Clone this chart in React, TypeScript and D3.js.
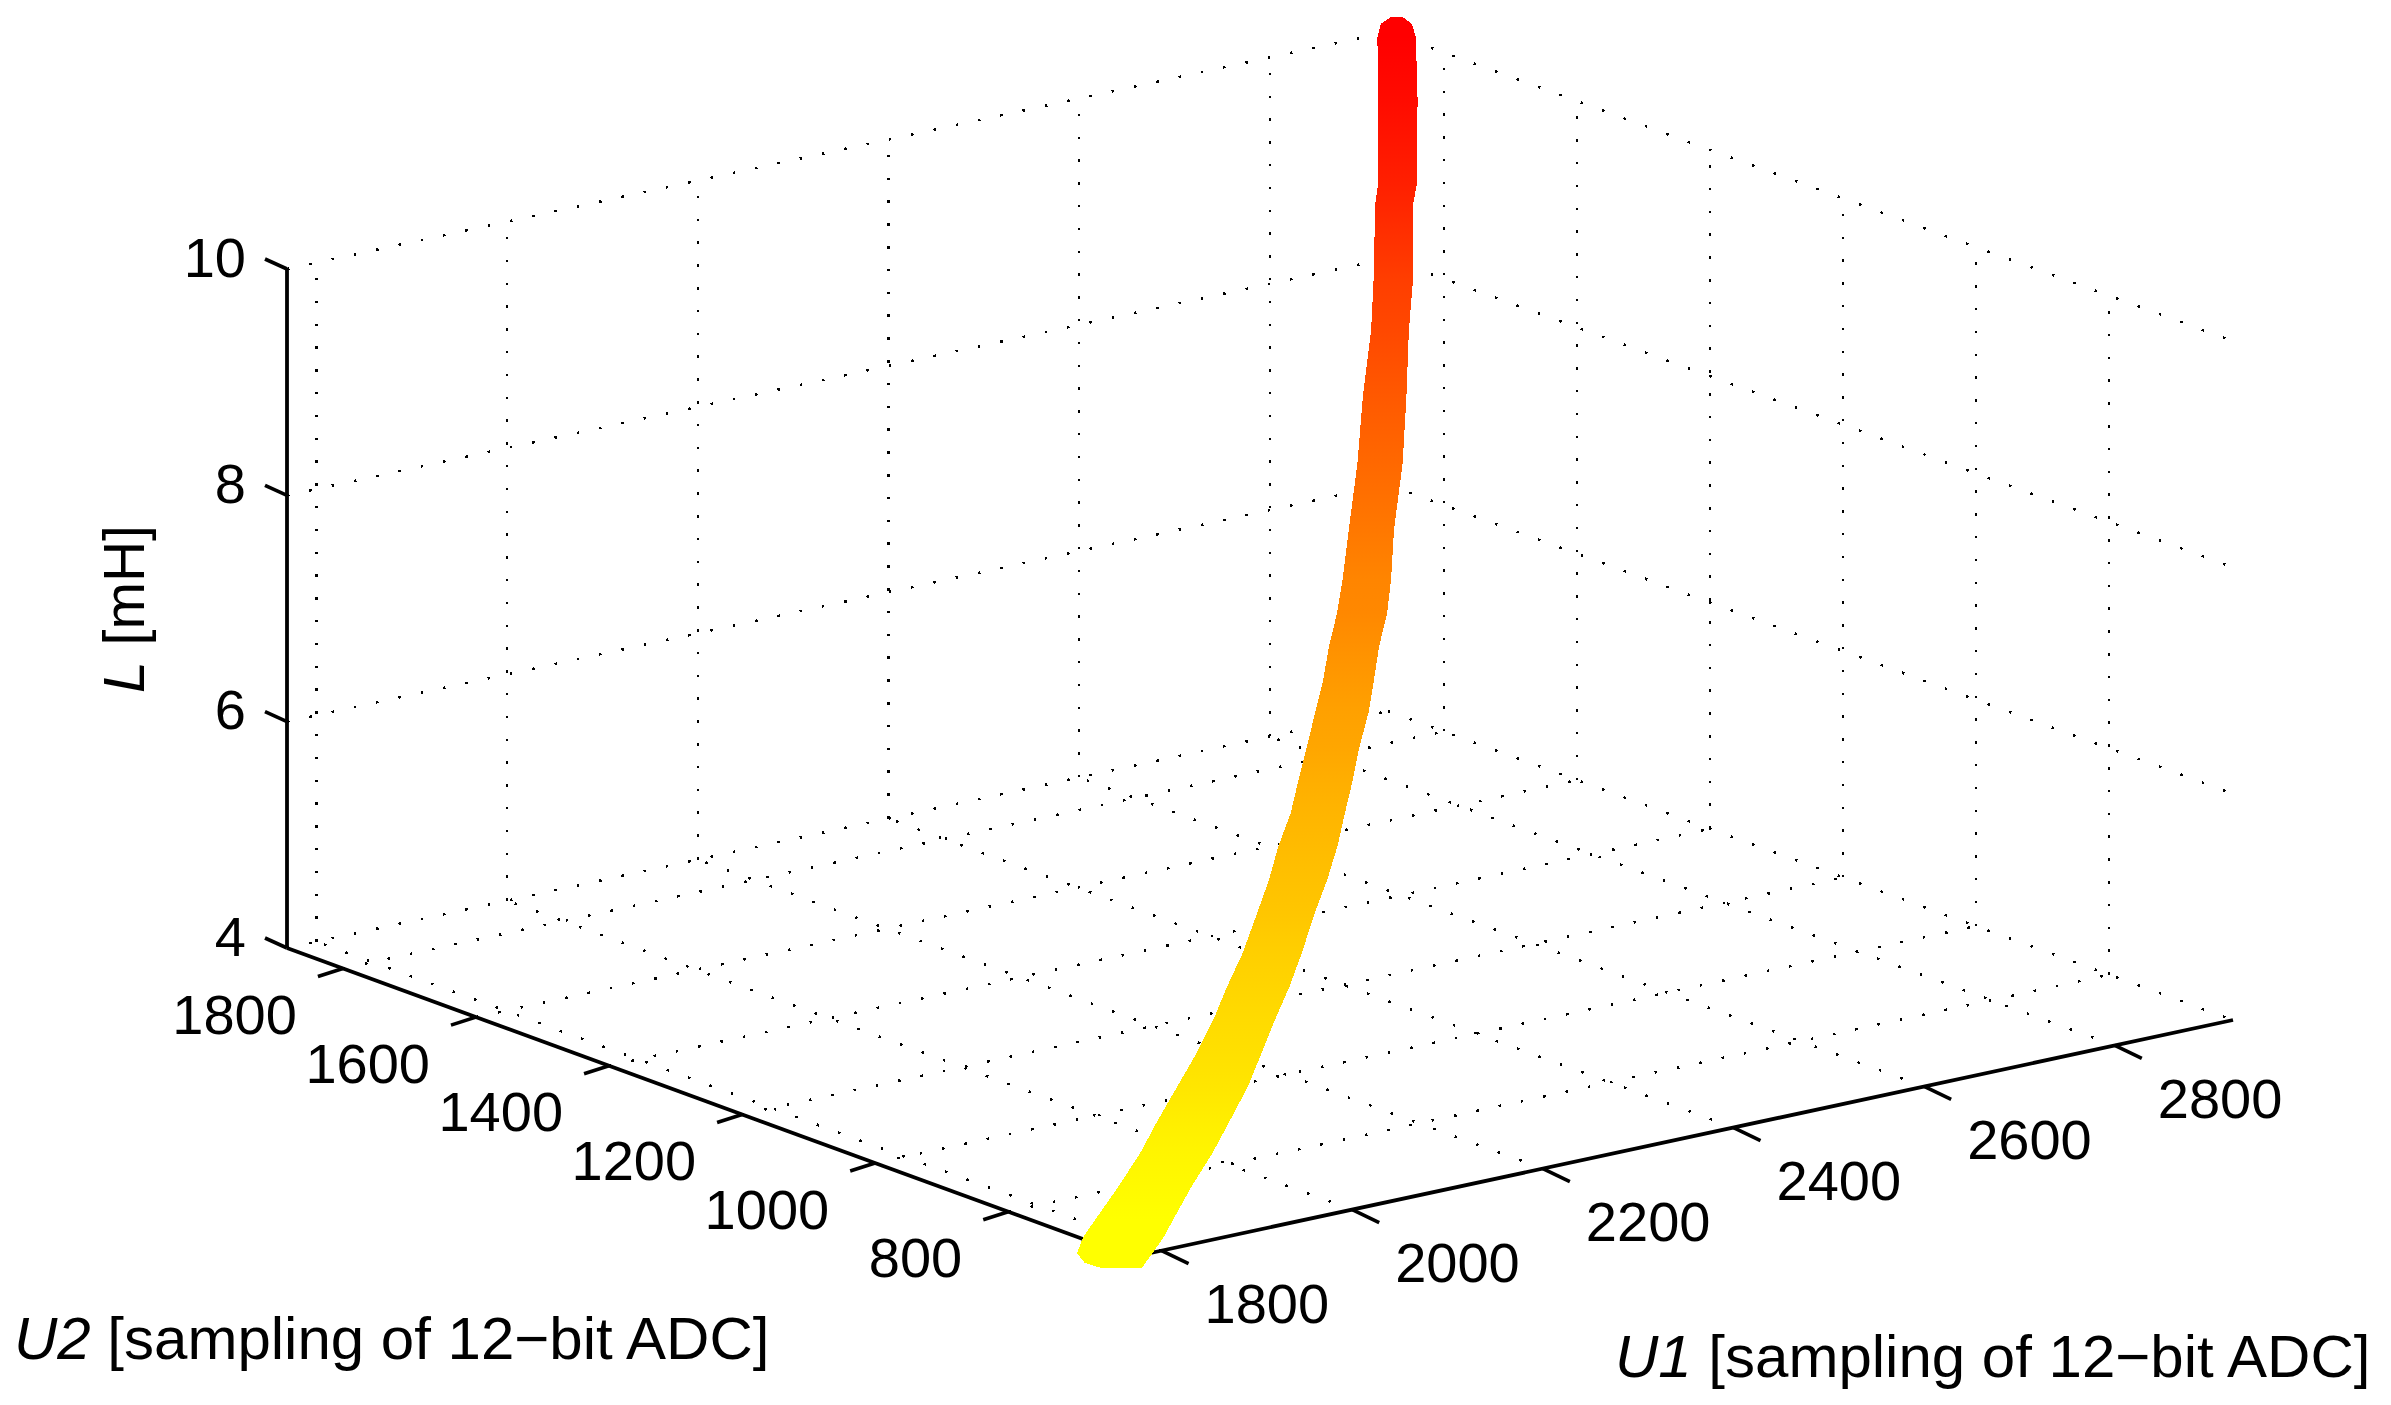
import { useEffect, useRef } from 'react';
import * as d3 from 'd3';

// axis ticks
const u1Ticks = [1800, 2000, 2200, 2400, 2600, 2800];
const u2Ticks = [800, 1000, 1200, 1400, 1600, 1800];
const lTicks = [4, 6, 8, 10];

// axis limits
const u1Domain = [1769, 2924];
const u2Domain = [614, 1884];
const lDomain = [4, 10];

// measured trace, read row by row along both sides of the band
const traceL = [10, 10, 10, 9.75, 9.25, 9.1, 8.55, 8.3, 7.9, 7.55, 7.18, 6.88, 6.8, 6.6, 6.4, 6.22, 6.1, 5.9, 5.75, 5.6, 5.47, 5.35, 5.14, 5, 4.84, 4.72, 4.6, 4.39, 4.24, 4.12, 4, 4, 4, 4, 4];
const traceU1Left = [2953, 2934, 2908, 2846, 2794, 2787, 2763, 2722, 2677, 2626, 2575, 2542, 2495, 2469, 2447, 2419, 2376, 2352, 2318, 2279, 2240, 2197, 2158, 2115, 2079, 2033, 1983, 1954, 1913, 1862, 1811, 1773, 1740, 1727, 1729];
const traceU2Left = [1921, 1909, 1877, 1787, 1713, 1707, 1675, 1620, 1568, 1503, 1443, 1405, 1346, 1321, 1298, 1270, 1221, 1199, 1162, 1125, 1083, 1039, 1005, 967, 936, 895, 853, 840, 808, 768, 730, 693, 655, 625, 602];
const traceU1Right = [2961, 2954, 2933, 2872, 2820, 2812, 2789, 2747, 2706, 2656, 2605, 2574, 2528, 2502, 2480, 2454, 2411, 2388, 2354, 2318, 2278, 2235, 2197, 2156, 2120, 2076, 2030, 2002, 1961, 1910, 1863, 1826, 1790, 1767, 1756];
const traceU2Right = [1915, 1891, 1855, 1765, 1692, 1686, 1653, 1599, 1544, 1478, 1418, 1378, 1318, 1293, 1269, 1240, 1192, 1169, 1132, 1092, 1050, 1007, 972, 932, 902, 859, 814, 800, 768, 727, 687, 648, 613, 591, 580];

export default function App() {
    const svgRef = useRef<SVGSVGElement>(null);

    useEffect(() => {
        if (!svgRef.current) return;

        const corner = { x: 1132, y: 1257 };
        const u1x = d3.scaleLinear(u1Domain, [0, 1101]);
        const u1y = d3.scaleLinear(u1Domain, [0, -237]);
        const u2x = d3.scaleLinear(u2Domain, [0, -845]);
        const u2y = d3.scaleLinear(u2Domain, [0, -309]);
        const lz = d3.scaleLinear(lDomain, [0, -679]);

        const project = (u1: number, u2: number, l: number): [number, number] => [
            corner.x + u1x(u1) + u2x(u2),
            corner.y + u1y(u1) + u2y(u2) + lz(l),
        ];

        const svg = d3.select(svgRef.current);
        svg.selectAll('*').remove();

        const line = d3.line();
        const [u1Min, u1Max] = u1Domain;
        const [u2Min, u2Max] = u2Domain;
        const [lMin, lMax] = lDomain;

        // Dotted grid on the floor and the two walls
        const gridLines: [number, number, number][][] = [
            ...u1Ticks.map(t => [[t, u2Min, lMin], [t, u2Max, lMin]] as [number, number, number][]),
            ...u2Ticks.map(t => [[u1Min, t, lMin], [u1Max, t, lMin]] as [number, number, number][]),
            ...u1Ticks.map(t => [[t, u2Max, lMin], [t, u2Max, lMax]] as [number, number, number][]),
            ...u2Ticks.map(t => [[u1Max, t, lMin], [u1Max, t, lMax]] as [number, number, number][]),
            ...lTicks.map(t => [[u1Min, u2Max, t], [u1Max, u2Max, t]] as [number, number, number][]),
            ...lTicks.map(t => [[u1Max, u2Max, t], [u1Max, u2Min, t]] as [number, number, number][]),
        ];
        svg.append('g')
            .selectAll('path')
            .data(gridLines)
            .join('path')
            .attr('d', d => line(d.map(p => project(p[0], p[1], p[2]))))
            .attr('fill', 'none')
            .attr('stroke', '#000')
            .attr('stroke-width', 2.5)
            .attr('stroke-dasharray', '2.5 20.3')
            .attr('shape-rendering', 'crispEdges');

        // Axis lines
        const axisLines: [number, number, number][][] = [
            [[u1Min, u2Min, lMin], [u1Max, u2Min, lMin]],
            [[u1Min, u2Min, lMin], [u1Min, u2Max, lMin]],
            [[u1Min, u2Max, lMin], [u1Min, u2Max, lMax]],
        ];
        svg.append('g')
            .selectAll('path')
            .data(axisLines)
            .join('path')
            .attr('d', d => line(d.map(p => project(p[0], p[1], p[2]))))
            .attr('fill', 'none')
            .attr('stroke', '#000')
            .attr('stroke-width', 3.8);

        const tick = (p: [number, number], dx: number, dy: number) =>
            svg.append('path')
                .attr('d', line([p, [p[0] + dx, p[1] + dy]]))
                .attr('stroke', '#000')
                .attr('stroke-width', 3.6);

        const label = (x: number, y: number, anchor: string, txt: string) =>
            svg.append('text')
                .attr('x', x).attr('y', y)
                .attr('text-anchor', anchor)
                .attr('dominant-baseline', 'central')
                .attr('font-family', '"Liberation Sans", Arial, sans-serif')
                .attr('font-size', 56)
                .attr('fill', '#000')
                .text(txt);

        u1Ticks.forEach(t => {
            const p = project(t, u2Min, lMin);
            tick(p, 27, 13);
            label(p[0] + 43, p[1] + 53, 'start', String(t));
        });
        u2Ticks.forEach(t => {
            const p = project(u1Min, t, lMin);
            tick(p, -25, 8);
            label(p[0] - 46, p[1] + 46, 'end', String(t));
        });
        lTicks.forEach(t => {
            const p = project(u1Min, u2Max, t);
            tick(p, -22, -10);
            label(p[0] - 41, p[1] - 12, 'end', String(t));
        });

        // Trace, coloured by L (autumn colormap, red at the top, yellow at the bottom)
        const green = d3.scaleLinear(lDomain, [255, 0]);
        const leftEdge = traceL.map((l, i) => project(traceU1Left[i], traceU2Left[i], l));
        const rightEdge = traceL.map((l, i) => project(traceU1Right[i], traceU2Right[i], l));
        const top = leftEdge[0][1];
        const bottom = leftEdge[leftEdge.length - 1][1];

        const defs = svg.append('defs');
        const grad = defs.append('linearGradient')
            .attr('id', 'trace-grad')
            .attr('gradientUnits', 'userSpaceOnUse')
            .attr('x1', 0).attr('x2', 0)
            .attr('y1', top).attr('y2', bottom);
        traceL.forEach((l, i) => {
            grad.append('stop')
                .attr('offset', (leftEdge[i][1] - top) / (bottom - top))
                .attr('stop-color', `rgb(255,${Math.round(green(l))},0)`);
        });

        svg.append('path')
            .attr('d', line([...leftEdge, ...rightEdge.slice().reverse()]) + 'Z')
            .attr('fill', 'url(#trace-grad)')
            .attr('shape-rendering', 'crispEdges');

        // Axis titles
        const title = (x: number, y: number, size: number, italic: string, rest: string, rotate = false) => {
            const t = svg.append('text')
                .attr('font-family', '"Liberation Sans", Arial, sans-serif')
                .attr('font-size', size)
                .attr('fill', '#000')
                .attr('transform', `translate(${x},${y})${rotate ? ' rotate(-90)' : ''}`)
                .attr('text-anchor', rotate ? 'middle' : 'start');
            t.append('tspan').attr('font-style', 'italic').text(italic);
            t.append('tspan').text(rest);
        };
        title(14, 1359, 60, 'U2', ' [sampling of 12\u2212bit ADC]');
        title(1615, 1377, 60, 'U1', ' [sampling of 12\u2212bit ADC]');
        title(144, 609, 57, 'L', ' [mH]', true);
    }, []);

    return (
        <svg
            ref={svgRef}
            width={2391}
            height={1405}
            style={{ position: 'absolute', left: 0, top: 0, background: '#fff' }}
        />
    );
}
